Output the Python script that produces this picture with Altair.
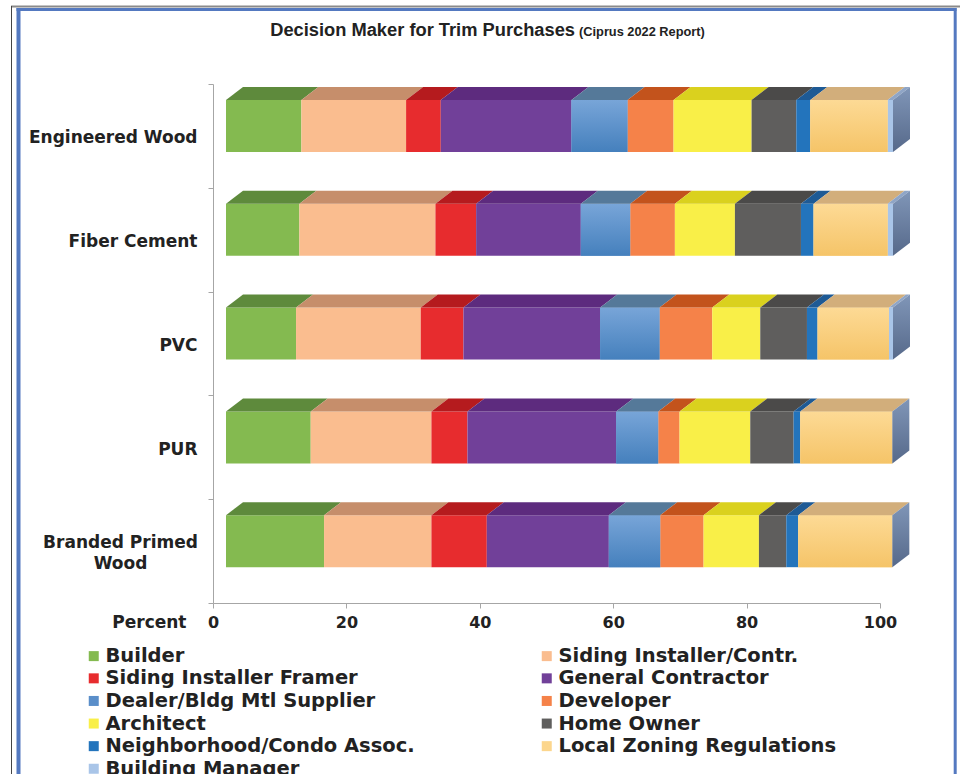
import altair as alt
import pandas as pd

# ---------------- data ----------------
title_main = "Decision Maker for Trim Purchases"
title_sub = "(Ciprus 2022 Report)"
x_title = "Percent"

categories = ["Engineered Wood", "Fiber Cement", "PVC", "PUR", "Branded Primed Wood"]
series = ["Builder", "Siding Installer/Contr.", "Siding Installer Framer",
          "General Contractor", "Dealer/Bldg Mtl Supplier", "Developer",
          "Architect", "Home Owner", "Neighborhood/Condo Assoc.",
          "Local Zoning Regulations", "Building Manager"]

engineered_wood = [11.3, 15.7, 5.2, 19.6, 8.4, 6.9, 11.7, 6.7, 2.1, 11.6, 0.8]
fiber_cement = [11.0, 20.4, 6.1, 15.7, 7.4, 6.7, 9.0, 9.9, 1.9, 11.1, 0.8]
pvc = [10.5, 18.7, 6.4, 20.5, 8.9, 7.9, 7.2, 7.0, 1.6, 10.7, 0.6]
pur = [12.7, 18.1, 5.4, 22.3, 6.3, 3.2, 10.6, 6.5, 1.0, 13.8, 0.0]
branded_primed_wood = [14.7, 16.1, 8.3, 18.3, 7.7, 6.5, 8.3, 4.1, 1.8, 14.1, 0.0]
values = [engineered_wood, fiber_cement, pvc, pur, branded_primed_wood]

x_ticks = [0, 20, 40, 60, 80, 100]

# ---------------- styles ----------------
front_colors = ["#84ba50", "#fabd8f", "#e72c2e", "#714099", "#5a8ec9", "#f58249",
                "#f9ef48", "#5f5e5d", "#2374bc", "#fcd68d", "#a9c5e8"]
top_colors = ["#5e8a3c", "#c68e6b", "#b51b1e", "#5d2b7e", "#557999", "#c3531c",
              "#dad11e", "#4b4a49", "#1e5a95", "#d2ae7b", "#8fa5c6"]
gradient_series = {
    "Dealer/Bldg Mtl Supplier": ("#78a5d8", "#4580bd"),
    "Local Zoning Regulations": ("#fdda95", "#f5c468"),
}
FONT = "DejaVu Sans"
TXT = "#222222"
AX = "#a6a6a6"

W, H = 667, 519
FRONT_SHIFT = 13          # px, front face shift from axis
DX = 17 / (W / 100.0)     # depth in x (data units)
DY = 13 / (H / 5.0)       # depth in y (data units)
BAR_LO, BAR_HI = 0.345, 0.846
LINE_H = 21

# ---------------- build tables ----------------
front_rows, top_rows, side_rows = [], [], []
n = len(categories)
for ci, (cat, vals) in enumerate(zip(categories, values)):
    base = n - 1 - ci
    ylo, yhi = base + BAR_LO, base + BAR_HI
    acc = 0.0
    for s, v in zip(series, vals):
        if v <= 0:
            continue
        x0, x1 = acc, acc + v
        acc = x1
        key = f"{cat}|{s}"
        front_rows.append(dict(cat=cat, series=s, x0=x0, x1=x1, ylo=ylo, yhi=yhi))
        top_rows.append(dict(key=key, series=s, y=yhi, xa=x0, xb=x1))
        top_rows.append(dict(key=key, series=s, y=yhi + DY, xa=x0 + DX, xb=x1 + DX))
    side_rows.append(dict(cat=cat, x=acc, ya=yhi, yb=ylo))
    side_rows.append(dict(cat=cat, x=acc + DX, ya=yhi + DY, yb=ylo + DY))

front_df = pd.DataFrame(front_rows)
top_df = pd.DataFrame(top_rows)
side_df = pd.DataFrame(side_rows)


def split_label(s):
    if len(s) > 16:
        i = s.rfind(" ")
        return [s[:i], s[i + 1:]]
    return s


# ticks sit on band boundaries; each label belongs to the band above its tick
expr = "''"
multi_tests = []
for ci, cat in enumerate(categories):
    lower = n - 1 - ci
    lab = split_label(cat)
    if isinstance(lab, list):
        lab_js = "[" + ",".join("'" + p + "'" for p in lab) + "]"
        multi_tests.append(f"abs(datum.value - {lower}) < 0.01")
    else:
        lab_js = "'" + lab + "'"
    expr = f"abs(datum.value - {lower}) < 0.01 ? {lab_js} : ({expr})"
multi_test = " || ".join(multi_tests) if multi_tests else "false"

half_band = H / 5.0 / 2
x_scale = alt.Scale(domain=[0, 100], nice=False, zero=False)
y_scale = alt.Scale(domain=[0, 5], nice=False, zero=False)

x_axis = alt.Axis(values=x_ticks, format="d", grid=False, domainColor=AX, tickColor=AX,
                  tickSize=5, labelFont=FONT, labelFontWeight="bold", labelFontSize=16,
                  labelColor=TXT, labelPadding=6, labelFlush=False, title=x_title,
                  titleFont=FONT, titleFontWeight="bold", titleFontSize=17,
                  titleColor=TXT, titleX=-27, titleY=19, titleAlign="right",
                  titleBaseline="middle", titleAngle=0)
y_axis = alt.Axis(values=list(range(n + 1)), labelExpr=expr, grid=False,
                  domainColor=AX, tickColor=AX, tickSize=5,
                  labelOffset={"condition": {"test": multi_test,
                                             "value": -half_band + 2 - LINE_H / 2},
                               "value": -half_band + 2},
                  labelAlign={"condition": {"test": multi_test, "value": "center"},
                              "value": "right"},
                  labelPadding={"condition": {"test": multi_test, "value": 88},
                                "value": 11},
                  labelFont=FONT, labelFontWeight="bold", labelFontSize=17,
                  labelColor=TXT, labelLineHeight=LINE_H, title=None,
                  labelLimit=0, labelFlush=False, labelOverlap=False)

legend = alt.Legend(orient="none", legendX=-129, legendY=562, columns=2,
                    direction="horizontal", columnPadding=122, rowPadding=1.6,
                    symbolType="square", symbolSize=100, symbolStrokeWidth=0,
                    labelFont=FONT, labelFontWeight="bold", labelFontSize=19.5,
                    labelColor=TXT, labelLimit=0, labelOffset=2, title=None)

front = alt.Chart(front_df).mark_bar(xOffset=FRONT_SHIFT, x2Offset=FRONT_SHIFT).encode(
    x=alt.X("x0:Q", scale=x_scale, axis=x_axis),
    x2="x1:Q",
    y=alt.Y("ylo:Q", scale=y_scale, axis=y_axis),
    y2="yhi:Q",
    color=alt.Color("series:N", scale=alt.Scale(domain=series, range=front_colors),
                    legend=legend, sort=series),
)

grad_layers = []
for s, (c_top, c_bot) in gradient_series.items():
    g = alt.Gradient(gradient="linear", x1=0, x2=0, y1=0, y2=1,
                     stops=[alt.GradientStop(color=c_top, offset=0),
                            alt.GradientStop(color=c_bot, offset=1)])
    grad_layers.append(
        alt.Chart(front_df).transform_filter(alt.datum.series == s)
        .mark_bar(xOffset=FRONT_SHIFT, x2Offset=FRONT_SHIFT, color=g).encode(
            x=alt.X("x0:Q", scale=x_scale, axis=x_axis), x2="x1:Q",
            y=alt.Y("ylo:Q", scale=y_scale, axis=y_axis), y2="yhi:Q"))

tops = alt.Chart(top_df).mark_area(orient="horizontal", xOffset=FRONT_SHIFT,
                                   x2Offset=FRONT_SHIFT).encode(
    y=alt.Y("y:Q", scale=y_scale, axis=y_axis),
    x=alt.X("xa:Q", scale=x_scale, axis=x_axis),
    x2="xb:Q",
    detail="key:N",
    color=alt.Color("series:N", scale=alt.Scale(domain=series, range=top_colors),
                    legend=None),
)

side_grad = alt.Gradient(gradient="linear", x1=0, x2=0, y1=0, y2=1,
                         stops=[alt.GradientStop(color="#8096b8", offset=0),
                                alt.GradientStop(color="#56698a", offset=1)])
side = alt.Chart(side_df).mark_area(xOffset=FRONT_SHIFT, x2Offset=FRONT_SHIFT,
                                    color=side_grad).encode(
    x=alt.X("x:Q", scale=x_scale, axis=x_axis),
    y=alt.Y("ya:Q", scale=y_scale, axis=y_axis),
    y2="yb:Q",
    detail="cat:N",
)

one = pd.DataFrame({"a": [0]})
t_main = alt.Chart(one).mark_text(text=title_main, font="Liberation Sans", fontWeight="bold",
                                  fontSize=18.3, color=TXT, align="right",
                                  baseline="middle").encode(x=alt.value(362), y=alt.value(-53))
t_sub = alt.Chart(one).mark_text(text=title_sub, font="Liberation Sans", fontWeight="bold",
                                 fontSize=12.8, color=TXT, align="left",
                                 baseline="middle").encode(x=alt.value(366), y=alt.value(-52))

frame = [
    alt.Chart(one).mark_rule(color="#8a8a8a", strokeWidth=2).encode(
        x=alt.value(-202), x2=alt.value(760), y=alt.value(-77.5)),
    alt.Chart(one).mark_rule(color="#444444", strokeWidth=1).encode(
        x=alt.value(-201.5), y=alt.value(-78), y2=alt.value(700)),
    alt.Chart(one).mark_rule(color="#5479c0", strokeWidth=4).encode(
        x=alt.value(-194.5), y=alt.value(-76), y2=alt.value(700)),
    alt.Chart(one).mark_rule(color="#5479c0", strokeWidth=3).encode(
        x=alt.value(-196.5), x2=alt.value(743.5), y=alt.value(-74.5)),
    alt.Chart(one).mark_rule(color="#5479c0", strokeWidth=3).encode(
        x=alt.value(742.2), y=alt.value(-76), y2=alt.value(700)),
]

chart = alt.layer(front, *grad_layers, tops, side, t_main, t_sub, *frame).resolve_scale(
    color="independent"
).properties(
    width=W, height=H,
    autosize=alt.AutoSizeParams(type="none"),
    padding={"left": 213, "top": 84, "right": 80, "bottom": 171},
    background="white",
).configure_view(stroke=None)

chart.save("out.html", embed_options={"renderer": "svg", "actions": False})
